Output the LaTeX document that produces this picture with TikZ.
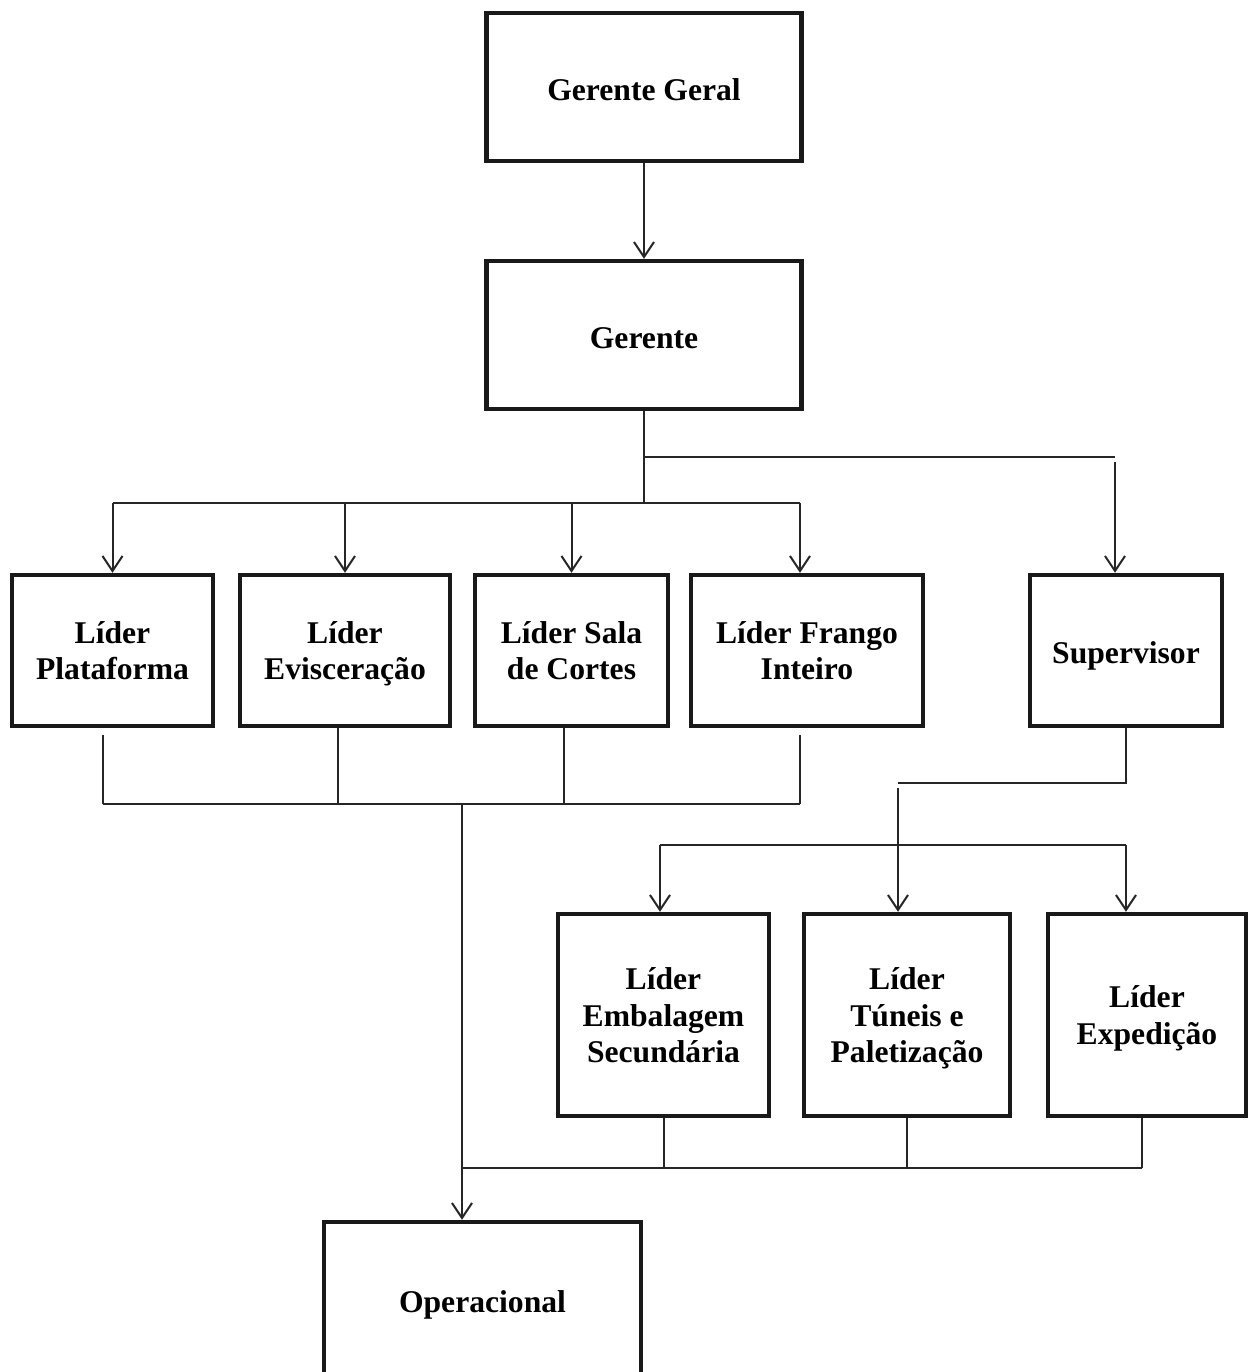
\documentclass[tikz,border=0pt]{standalone}
\usepackage{fontspec}
\setmainfont{Liberation Serif}
\usetikzlibrary{arrows.meta,calc}
\tikzset{
  box/.style = {rectangle, draw=black!90, line width=0.09cm, align=center,
                font=\fontsize{18}{21}\selectfont\bfseries, inner sep=2pt,
                text depth=0pt},
  one/.style = {box, text height=15pt},
  lnk/.style = {line width=0.04cm, black!85},
  arr/.style = {lnk, -{Straight Barb[length=3mm, width=4mm]}},
}
\begin{document}
\begin{tikzpicture}[x=0.02cm, y=-0.02cm]
  \useasboundingbox (0,0) rectangle (1251,1372);
  % topo
  \node[one, minimum width=6.3cm, minimum height=2.96cm] (gg)  at (644,87)  {Gerente Geral};
  \node[one, minimum width=6.3cm, minimum height=2.96cm] (ger) at (644,335) {Gerente};
  % lideres
  \node[box, minimum width=4.02cm, minimum height=3.02cm] (plat)   at (112.5,650.5) {Líder\\ Plataforma};
  \node[box, minimum width=4.2cm,  minimum height=3.02cm] (evis)   at (345,650.5)   {Líder\\ Evisceração};
  \node[box, minimum width=3.86cm, minimum height=3.02cm] (sala)   at (571.5,650.5) {Líder Sala\\ de Cortes};
  \node[box, minimum width=4.64cm, minimum height=3.02cm] (frango) at (807,650.5)   {Líder Frango\\ Inteiro};
  \node[one, minimum width=3.84cm, minimum height=3.02cm] (sup)    at (1126,650.5)  {Supervisor};
  % abaixo do supervisor
  \node[box, minimum width=4.22cm, minimum height=4.04cm] (emb) at (663.5,1015) {Líder\\ Embalagem\\ Secundária};
  \node[box, minimum width=4.12cm, minimum height=4.04cm] (tun) at (907,1015)   {Líder\\ Túneis e\\ Paletização};
  \node[box, minimum width=3.96cm, minimum height=4.04cm] (exp) at (1147,1015)  {Líder\\ Expedição};
  \node[box, minimum width=6.34cm, minimum height=3.2cm]  (oper) at (482.5,1302) {Operacional};

  \coordinate (bus0) at (644,457);
  \coordinate (bus1) at (644,503);
  \coordinate (bus2) at (462,804);
  \coordinate (bus3) at (898,783);
  \coordinate (bus4) at (660,845);
  \coordinate (bus5) at (462,1168);

  \coordinate (p1) at ([xshift=-0.2cm]plat.south);
  \coordinate (p2) at ([xshift=-0.14cm]evis.south);
  \coordinate (p3) at ([xshift=-0.15cm]sala.south);
  \coordinate (p4) at ([xshift=-0.14cm]frango.south);
  \coordinate (q4) at ([xshift=-0.14cm]frango.north);
  \coordinate (qs) at ([xshift=-0.22cm]sup.north);
  \coordinate (qe) at ([xshift=-0.1cm]exp.south);

  \draw[arr] (gg) -- (ger);
  \draw[lnk] (ger.south) -- (bus1);
  \draw[lnk] (plat.north |- bus1) -- (q4 |- bus1);
  \foreach \n in {plat,evis,sala}
    \draw[arr] (\n.north |- bus1) -- (\n.north);
  \draw[arr] (q4 |- bus1) -- (q4);
  \draw[lnk] (bus0) -- (qs |- bus0);
  \draw[arr, shorten <=3pt] (qs |- bus0) -- (qs);

  \draw[lnk, shorten <=4pt] (p1) -- (p1 |- bus2);
  \draw[lnk] (p2) -- (p2 |- bus2);
  \draw[lnk] (p3) -- (p3 |- bus2);
  \draw[lnk, shorten <=4pt] (p4) -- (p4 |- bus2);
  \draw[lnk] (p1 |- bus2) -- (p4 |- bus2);
  \draw[arr] (bus2) -- (bus2 |- oper.north);

  \draw[lnk] (sup.south) -- (sup.south |- bus3) -- (bus3);
  \draw[arr, shorten <=3pt] (bus3) -- (bus3 |- tun.north);
  \draw[lnk] (bus4) -- (sup.south |- bus4);
  \draw[arr] (bus4) -- (bus4 |- emb.north);
  \draw[arr] (sup.south |- bus4) -- (sup.south |- exp.north);

  \draw[lnk] (emb.south) -- (emb.south |- bus5);
  \draw[lnk] (tun.south) -- (tun.south |- bus5);
  \draw[lnk] (qe) -- (qe |- bus5);
  \draw[lnk] (bus5) -- (qe |- bus5);
\end{tikzpicture}
\end{document}
